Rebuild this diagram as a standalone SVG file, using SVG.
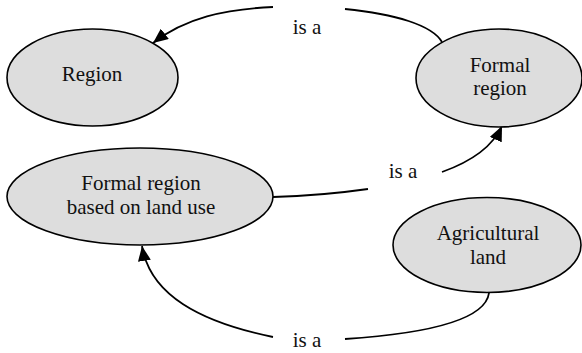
<svg xmlns="http://www.w3.org/2000/svg" width="582" height="353" viewBox="0 0 582 353">
<style>
.node ellipse{fill:#dddddd;stroke:#000;stroke-width:1.6}
text{font-family:'Liberation Serif','Times New Roman',serif;font-size:21px;fill:#111;text-anchor:middle}
.edge path{fill:none;stroke:#000;stroke-width:1.8}
</style>
<defs>
<marker id="arr" markerUnits="userSpaceOnUse" markerWidth="16" markerHeight="13" refX="15" refY="6.5" orient="auto">
<path d="M0,0 L15,6.5 L0,13 z" fill="#000"/>
</marker>
</defs>
<g id="connectors">
<g class="edge" id="e1">
<path d="M442,42 C432,25 395,14 345,9"/>
<path d="M273,7 C225,9 185,18 153,43" marker-end="url(#arr)"/>
<text x="307" y="34">is a</text>
</g>
<g class="edge" id="e2">
<path d="M273,197 C310,196 340,193 368,189"/>
<path d="M442,172 C470,162 492,148 502,126" marker-end="url(#arr)"/>
<text x="403" y="178">is a</text>
</g>
<g class="edge" id="e3">
<path d="M489,293 C485,322 420,334 345,339"/>
<path d="M273,337 C200,322 150,295 142,246" marker-end="url(#arr)"/>
<text x="307" y="347">is a</text>
</g>
</g>
<g class="node" id="region">
<ellipse cx="92.5" cy="77.5" rx="85.5" ry="48.5"/>
<text x="92" y="81">Region</text>
</g>
<g class="node" id="formal-region">
<ellipse cx="499" cy="78" rx="83" ry="49"/>
<text x="500" y="72">Formal</text>
<text x="500" y="95">region</text>
</g>
<g class="node" id="formal-region-land-use">
<ellipse cx="140" cy="196.5" rx="133" ry="48.5"/>
<text x="141" y="190">Formal region</text>
<text x="141" y="214">based on land use</text>
</g>
<g class="node" id="agricultural-land">
<ellipse cx="487" cy="245" rx="94" ry="47.5"/>
<text x="488" y="240">Agricultural</text>
<text x="488" y="264">land</text>
</g>
</svg>
